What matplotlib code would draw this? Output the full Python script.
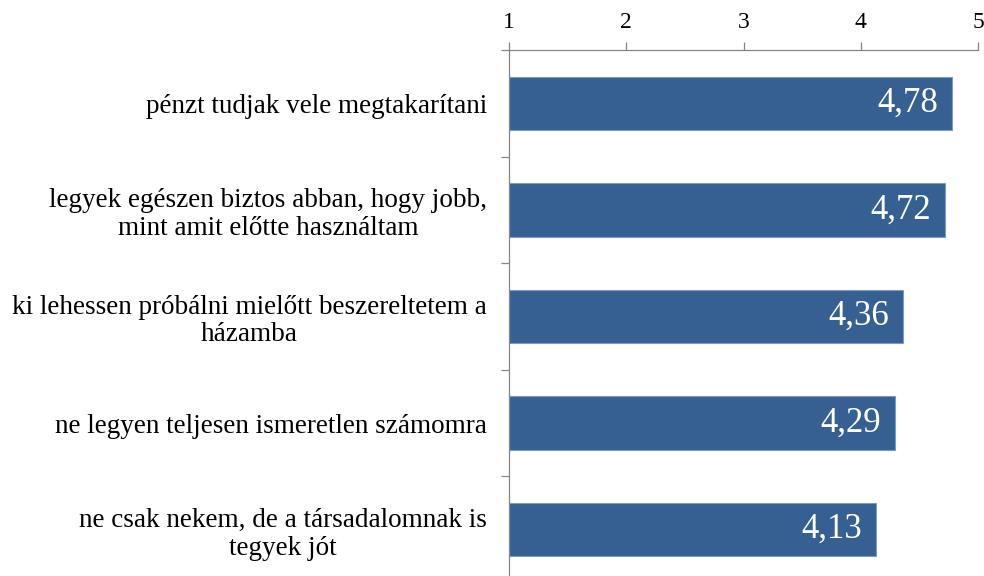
import matplotlib
matplotlib.use("Agg")
import matplotlib.pyplot as plt
import numpy as np

categories = [
    "pénzt tudjak vele megtakarítani",
    "legyek egészen biztos abban, hogy jobb,\nmint amit előtte használtam",
    "ki lehessen próbálni mielőtt beszereltetem a\nházamba",
    "ne legyen teljesen ismeretlen számomra",
    "ne csak nekem, de a társadalomnak is\ntegyek jót",
]
values = [4.78, 4.72, 4.36, 4.29, 4.13]
value_labels = ["4,78", "4,72", "4,36", "4,29", "4,13"]
xticks = [1, 2, 3, 4, 5]

plt.rcParams['font.family'] = ['Liberation Serif', 'DejaVu Serif']

fig = plt.figure(figsize=(9.84, 5.76), dpi=100)
W, H = 984, 576
left, right, top, bottom = 509, 978, 50, 583
ax = fig.add_axes([left / W, 1 - bottom / H, (right - left) / W, (bottom - top) / H])

n = len(categories)
y = np.arange(n)
base = 1
ax.barh(y, [v - base for v in values], left=base, height=0.5,
        color="#376092", edgecolor="#7b9cc5", linewidth=0.8, zorder=2)
for yi, v, lab in zip(y, values, value_labels):
    ax.text(v - 0.12, yi, lab, ha="right", va="center", color="white",
            fontsize=25, zorder=3)

ax.set_xlim(1, 5)
ax.set_ylim(n - 0.5, -0.5)
ax.xaxis.tick_top()
ax.set_xticks(xticks)
ax.set_xticklabels([str(t) for t in xticks], fontsize=17)
ax.tick_params(axis="x", direction="out", length=6, width=0.9, color="#868686", pad=6)

ax.set_yticks(y)
ax.set_yticklabels(categories, fontsize=19.5, multialignment="center", linespacing=1.15)
ax.tick_params(axis="y", which="major", length=0, pad=16)
ax.set_yticks(np.arange(-0.5, n, 1), minor=True)
ax.tick_params(axis="y", which="minor", direction="out", length=6, width=0.9, color="#868686")

for s in ["right", "bottom"]:
    ax.spines[s].set_visible(False)
for s in ["top", "left"]:
    ax.spines[s].set_color("#868686")
    ax.spines[s].set_linewidth(0.9)

fig.savefig("out.png", dpi=100)
